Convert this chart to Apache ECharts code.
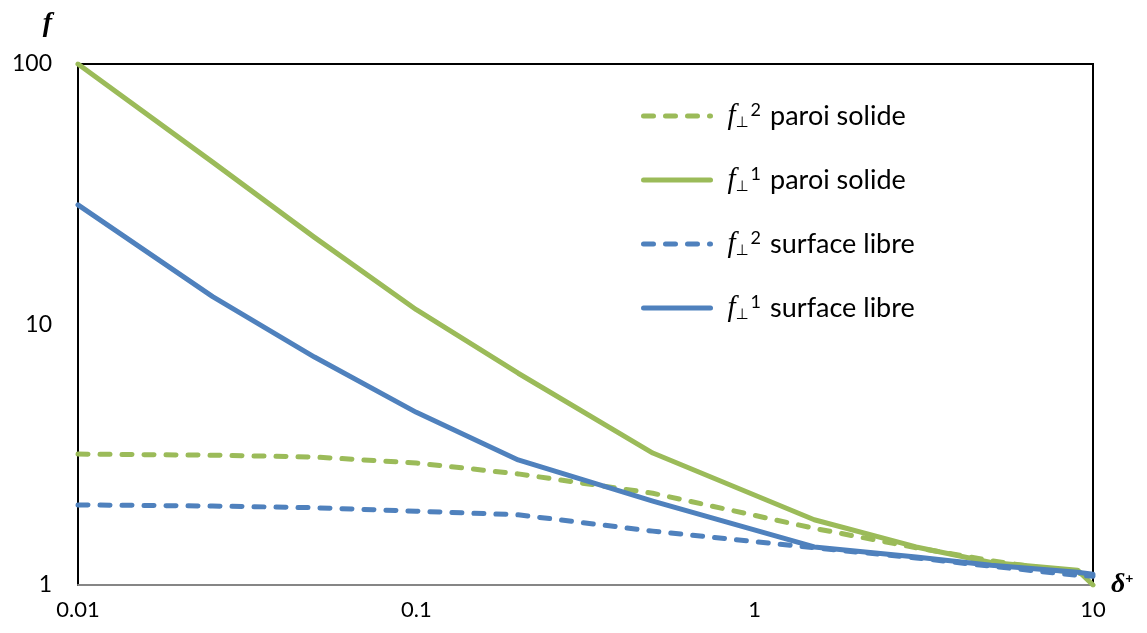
<!DOCTYPE html>
<html>
<head>
<meta charset="utf-8">
<script src="https://cdn.jsdelivr.net/npm/echarts@6/dist/echarts.min.js"></script>
<style>html,body{margin:0;padding:0;background:#fff}#c{width:1147px;height:633px}</style>
</head>
<body>
<div id="c"></div>
<script>
const deltaPlus = [0.01, 0.025, 0.05, 0.1, 0.2, 0.5, 1.5, 3, 5, 9, 10];
const f2Solid   = [3.18, 3.15, 3.10, 2.94, 2.67, 2.25, 1.65, 1.39, 1.24, 1.11, 1.09];
const f1Solid   = [100, 42, 21.6, 11.4, 6.5, 3.21, 1.78, 1.40, 1.22, 1.14, 1.0];
const f2Free    = [2.03, 2.01, 1.98, 1.92, 1.86, 1.61, 1.39, 1.27, 1.18, 1.09, 1.08];
const f1Free    = [28.8, 12.8, 7.5, 4.6, 3.02, 2.10, 1.40, 1.28, 1.19, 1.12, 1.10];
const seriesNames = ['f2 paroi solide', 'f1 paroi solide', 'f2 surface libre', 'f1 surface libre'];
const xTicks = [0.01, 0.1, 1, 10];
const yTicks = [1, 10, 100];

const GREEN = '#9BBB59', BLUE = '#4F81BD';
const pair = (ys) => deltaPlus.map((x, i) => [x, ys[i]]);
const mk = (name, ys, color, dashed) => ({
  name, type: 'line', data: pair(ys), symbol: 'none', showSymbol: false,
  lineStyle: { color, width: 5, type: dashed ? [10, 12] : 'solid', cap: 'round', join: 'round' },
  itemStyle: { color }
});

const chart = echarts.init(document.getElementById('c'), null, { renderer: 'canvas' });
const legendText = {
  'f2 paroi solide': ['2', 'paroi solide'],
  'f1 paroi solide': ['1', 'paroi solide'],
  'f2 surface libre': ['2', 'surface libre'],
  'f1 surface libre': ['1', 'surface libre']
};
chart.setOption({
  animation: false,
  backgroundColor: '#fff',
  grid: { left: 78, right: 54, top: 64, bottom: 48, show: true, borderColor: '#000', borderWidth: 2, backgroundColor: 'transparent' },
  legend: {
    orient: 'vertical', left: 636, top: 96, itemWidth: 67, itemHeight: 30, itemGap: 34,
    data: seriesNames,
    itemStyle: { opacity: 0 },
    lineStyle: { width: 5 },
    formatter: (n) => '{f|f}{sub|⊥}{sup|' + legendText[n][0] + '}{t|' + legendText[n][1] + '}',
    textStyle: {
      padding: [0, 0, 0, 12],
      rich: {
        f: { fontFamily: 'Liberation Serif', fontStyle: 'italic', fontSize: 29, color: '#000', lineHeight: 30, verticalAlign: 'middle' },
        sub: { fontFamily: 'DejaVu Sans', fontSize: 15, color: '#000', lineHeight: 30, verticalAlign: 'bottom' },
        sup: { fontFamily: 'Lato', fontSize: 18, color: '#000', lineHeight: 30, verticalAlign: 'top', padding: [0, 9, 0, 2] },
        t: { fontFamily: 'Lato', fontSize: 27, color: '#000', lineHeight: 30, verticalAlign: 'middle' }
      }
    }
  },
  xAxis: {
    type: 'log', logBase: 10, min: xTicks[0], max: xTicks[xTicks.length - 1],
    name: '{d|δ}{s|+}', nameLocation: 'end', nameGap: 18,
    nameTextStyle: {
      rich: {
        d: { fontFamily: 'Liberation Serif', fontWeight: 'bold', fontStyle: 'italic', fontSize: 28, color: '#000' },
        s: { fontFamily: 'Lato', fontWeight: 'bold', fontSize: 14, color: '#000', verticalAlign: 'top', padding: [0, 0, 10, 0] }
      }
    },
    axisLine: { show: true, lineStyle: { color: '#868686', width: 2 } },
    axisTick: { show: false },
    splitLine: { show: false },
    minorTick: { show: false },
    axisLabel: { margin: 14, fontFamily: 'Lato', fontSize: 22, color: '#000', formatter: (v) => String(+v.toPrecision(6)) }
  },
  yAxis: {
    type: 'log', logBase: 10, min: yTicks[0], max: yTicks[yTicks.length - 1],
    name: 'f', nameLocation: 'end', nameGap: 26,
    nameTextStyle: { fontFamily: 'Liberation Serif', fontWeight: 'bold', fontStyle: 'italic', fontSize: 28, color: '#000', align: 'right', padding: [0, 26, 0, 0] },
    axisLine: { show: true, lineStyle: { color: '#000', width: 2 } },
    axisTick: { show: false },
    splitLine: { show: false },
    axisLabel: { margin: 26, fontFamily: 'Lato', fontSize: 23, color: '#000', formatter: (v) => String(+v.toPrecision(6)) }
  },
  series: [
    mk(seriesNames[0], f2Solid, GREEN, true),
    mk(seriesNames[1], f1Solid, GREEN, false),
    mk(seriesNames[2], f2Free, BLUE, true),
    mk(seriesNames[3], f1Free, BLUE, false)
  ]
});
</script>
</body>
</html>
